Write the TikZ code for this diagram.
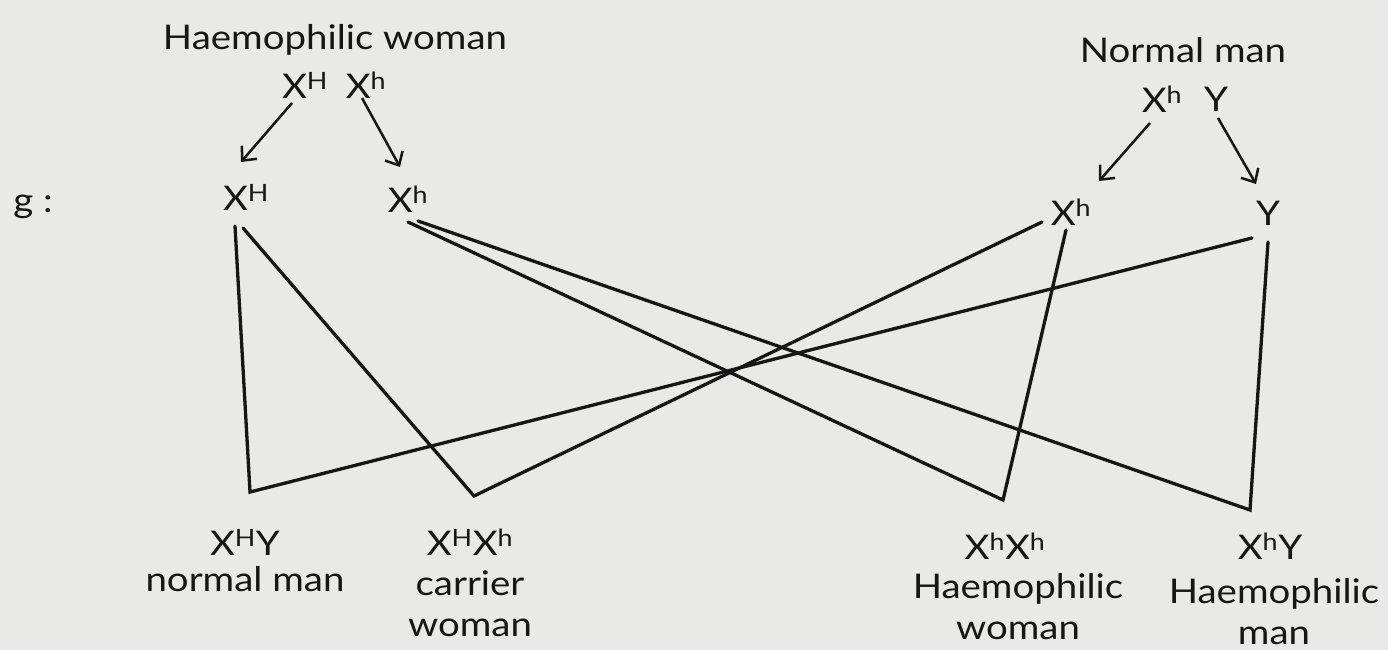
\documentclass[tikz,border=0pt]{standalone}
\usepackage{fontspec}
\usetikzlibrary{arrows.meta}
\setmainfont{Lato}[FakeStretch=1.13]
\definecolor{paper}{RGB}{233,233,231}
\definecolor{ink}{RGB}{22,22,22}
\begin{document}
\begin{tikzpicture}[x=1pt,y=-1pt,
  lbl/.style={font=\fontsize{34}{41}\selectfont, text=ink, inner sep=0pt, align=center},
  gam/.style={font=\fontsize{34}{41}\selectfont, text=ink, inner sep=0pt},
  cross/.style={draw=ink, line width=3.3pt, line cap=round, line join=miter},
  arr/.style={draw=ink, line width=2.5pt, -{Straight Barb[length=11pt,width=20pt]}}]
\fill[paper] (0,0) rectangle (1388,650);
\useasboundingbox (0,0) rectangle (1388,650);
% parents
\node[lbl] (hw) at (335,40) {Haemophilic woman};
\node[gam] (pXH) at (305,85) {X\textsuperscript{H}};
\node[gam] (pXh) at (366,85) {X\textsuperscript{h}};
\node[lbl] (nm) at (1183,50) {Normal man};
\node[gam] (pXh2) at (1162,99) {X\textsuperscript{h}};
\node[gam] (pY) at (1216,99) {Y};
% gametes
\node[gam] (g) at (33,207) {g :};
\node[gam] (gXH) at (246,197) {X\textsuperscript{H}};
\node[gam] (gXh) at (408,199) {X\textsuperscript{h}};
\node[gam] (gXh2) at (1071,212) {X\textsuperscript{h}};
\node[gam] (gY) at (1268,213) {Y};
% arrows
\coordinate (a1s) at (292,103); \coordinate (a1e) at (241,162);
\coordinate (a2s) at (362,98);  \coordinate (a2e) at (400,167);
\coordinate (a3s) at (1150,123); \coordinate (a3e) at (1099,181);
\coordinate (a4s) at (1218,118); \coordinate (a4e) at (1256,184);
\draw[arr] (a1s) -- (a1e);
\draw[arr] (a2s) -- (a2e);
\draw[arr] (a3s) -- (a3e);
\draw[arr] (a4s) -- (a4e);
% offspring
\node[gam] (o1) at (245,542) {X\textsuperscript{H}Y};
\node[lbl] (o1t) at (245,579) {normal man};
\node[gam] (o2) at (470,542) {X\textsuperscript{H}X\textsuperscript{h}};
\node[lbl] (o2t) at (470,604) {carrier\\woman};
\node[gam] (o3) at (1005,546) {X\textsuperscript{h}X\textsuperscript{h}};
\node[lbl] (o3t) at (1018,607) {Haemophilic\\woman};
\node[gam] (o4) at (1270,546) {X\textsuperscript{h}Y};
\node[lbl] (o4t) at (1274,612) {Haemophilic\\man};
% line ends
\coordinate (sXHa) at (235,226);
\coordinate (sXHb) at (243,228);
\coordinate (sXha) at (408,222);
\coordinate (sXhb) at (418,221);
\coordinate (sXh2a) at (1042,222);
\coordinate (sXh2b) at (1066,230);
\coordinate (sYa) at (1252,238);
\coordinate (sYb) at (1268,242);
\coordinate (j1) at (250,492);
\coordinate (j2) at (474,496);
\coordinate (j3) at (1003,500);
\coordinate (j4) at (1250,510);
\draw[cross] (sXHa) -- (j1) -- (sYa);
\draw[cross] (sXHb) -- (j2) -- (sXh2a);
\draw[cross] (sXha) -- (j3) -- (sXh2b);
\draw[cross] (sXhb) -- (j4) -- (sYb);
\end{tikzpicture}
\end{document}
